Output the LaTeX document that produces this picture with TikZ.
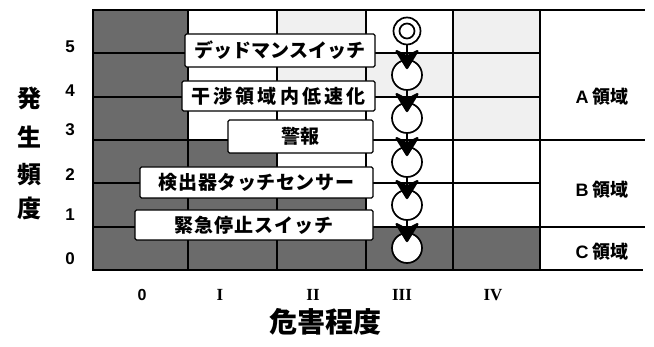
\documentclass[tikz,border=0pt]{standalone}
\usepackage{fontspec}
\setmainfont{Liberation Sans}
\newfontfamily\jp{Noto Sans CJK JP}
\newfontfamily\rom{Liberation Serif}
\usetikzlibrary{arrows.meta}
\definecolor{darkfill}{gray}{0.42}
\definecolor{lightfill}{gray}{0.94}
\tikzset{
  boxlabel/.style={draw=black, line width=1.4pt, fill=white, rounded corners=1.5pt,
    inner sep=0pt, font=\jp\bfseries\fontsize{19}{21}\selectfont, anchor=center},
  stagecircle/.style={circle, draw=black, line width=1.7pt, fill=white, inner sep=0pt, minimum size=30pt},
  arr/.style={line width=2.4pt, -{Stealth[length=22pt,width=27pt,inset=7pt,round]}, shorten >=-10pt},
  gridline/.style={line width=1.1pt},
  ylab/.style={font=\bfseries\fontsize{17}{19}\selectfont},
  xlab/.style={font=\rom\bfseries\fontsize{17}{19}\selectfont},
  axtitle/.style={font=\jp\bfseries\fontsize{24}{26}\selectfont},
  region/.style={font=\bfseries\fontsize{18}{20}\selectfont}
}
\begin{document}
\begin{tikzpicture}[x=1pt,y=-1pt]
\useasboundingbox (0,0) rectangle (654,347);
% shading
\fill[lightfill] (277,10) rectangle (366,53);
\fill[lightfill] (277,53) rectangle (453,97);
\fill[lightfill] (453,10) rectangle (540,140);
\fill[darkfill] (93,10) rectangle (188,270);
\fill[darkfill] (93,227) rectangle (540,270);
\fill[darkfill] (188,183) rectangle (366,227);
\fill[darkfill] (188,140) rectangle (277,183);
% grid
\foreach \x in {188,277,366,453} \draw[gridline] (\x,10) -- (\x,270);
\foreach \y in {53,97,140,183,227} \draw[gridline] (93,\y) -- (540,\y);
\draw[line width=1.8pt] (93,10) rectangle (540,270);
\draw[gridline] (540,10) -- (645,10);
\draw[gridline] (540,140) -- (645,140);
\draw[gridline] (540,227) -- (645,227);
\draw[line width=1.5pt] (540,270) -- (643,270);
% boxes
\node[boxlabel, minimum width=190pt, minimum height=33pt] (b1) at (280,50.5) {デッドマンスイッチ};
\node[boxlabel, minimum width=193pt, minimum height=30pt] (b2) at (278.5,96) {\addfontfeature{LetterSpace=16}干渉領域内低速化};
\node[boxlabel, minimum width=145pt, minimum height=33pt] (b3) at (300.5,136.5) {警報};
\node[boxlabel, minimum width=233pt, minimum height=31pt] (b4) at (256.5,182.5) {\addfontfeature{LetterSpace=3}検出器タッチセンサー};
\node[boxlabel, minimum width=238pt, minimum height=30pt] (b5) at (254,225) {\addfontfeature{LetterSpace=5}緊急停止スイッチ};
% circles
\node[circle, draw=black, line width=1.7pt, fill=white, inner sep=0pt, minimum size=27pt] (c0) at (407,31) {};
\node[circle, draw=black, line width=1.7pt, inner sep=0pt, minimum size=15pt] (c0in) at (407,31) {};
\node[stagecircle] (c1) at (407,75) {};
\node[stagecircle] (c2) at (407,118) {};
\node[stagecircle] (c3) at (407,162) {};
\node[stagecircle] (c4) at (407,205) {};
\node[stagecircle] (c5) at (407,248) {};
\draw[arr] (c0) -- (c1);
\draw[arr] (c1) -- (c2);
\draw[arr] (c2) -- (c3);
\draw[arr] (c3) -- (c4);
\draw[arr] (c4) -- (c5);
% y labels
\node[ylab] (y5) at (70,47) {5};
\node[ylab] (y4) at (70,91) {4};
\node[ylab] (y3) at (70,130) {3};
\node[ylab] (y2) at (70,175) {2};
\node[ylab] (y1) at (70,215) {1};
\node[ylab] (y0) at (70,259) {0};
\node[axtitle] (t1) at (29,98) {発};
\node[axtitle] (t2) at (29,137) {生};
\node[axtitle] (t3) at (29,175) {頻};
\node[axtitle] (t4) at (29,208) {度};
% x labels
\node[font=\bfseries\fontsize{16}{18}\selectfont] (x0) at (142,295) {0};
\node[xlab] (x1) at (220,295) {I};
\node[xlab] (x2) at (313,295) {II};
\node[xlab] (x3) at (402,295) {III};
\node[xlab] (x4) at (493,295) {IV};
\node[font=\jp\bfseries\fontsize{28}{30}\selectfont] (xt) at (325,322) {危害程度};
% regions
\node[region] (ra) at (602,97) {A\hspace{4pt}{\jp 領域}};
\node[region] (rb) at (602,190) {B\hspace{4pt}{\jp 領域}};
\node[region] (rc) at (602,252) {C\hspace{4pt}{\jp 領域}};
\end{tikzpicture}
\end{document}
